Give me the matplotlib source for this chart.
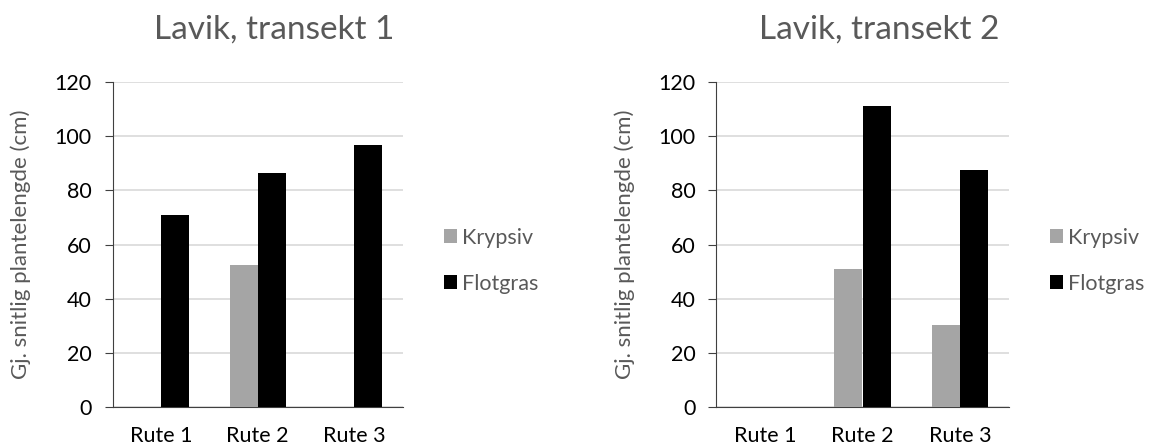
import numpy as np
import matplotlib.pyplot as plt

plt.rcParams['font.family'] = ['Lato', 'DejaVu Sans']

ruter = ['Rute 1', 'Rute 2', 'Rute 3']
serier = ['Krypsiv', 'Flotgras']
farger = ['#a5a5a5', '#000000']

# Gjennomsnittlig plantelengde (cm), 0 = ingen observasjon
transekt1_krypsiv = [0, 52.4, 0]
transekt1_flotgras = [71.0, 86.5, 96.6]
transekt2_krypsiv = [0, 51.0, 30.3]
transekt2_flotgras = [0, 111.1, 87.6]

titler = ['Lavik, transekt 1', 'Lavik, transekt 2']
data = [(transekt1_krypsiv, transekt1_flotgras),
        (transekt2_krypsiv, transekt2_flotgras)]

fig = plt.figure(figsize=(11.5, 4.47), dpi=100)
posisjoner = [[0.098, 0.0895, 0.252, 0.727], [0.623, 0.0895, 0.254, 0.727]]

x = np.arange(len(ruter))
w = 0.29
for pos, tittel, (kryp, flot) in zip(posisjoner, titler, data):
    ax = fig.add_axes(pos)
    ax.bar(x - w / 2, kryp, w, color=farger[0], label=serier[0], zorder=3)
    ax.bar(x + w / 2, flot, w, color=farger[1], label=serier[1], zorder=3)
    ax.set_xlim(-0.5, 2.5)
    ax.set_ylim(0, 120)
    ax.set_yticks(range(0, 121, 20))
    ax.set_xticks(x)
    ax.set_xticklabels(ruter)
    ax.yaxis.grid(True, color='#d9d9d9', linewidth=1.2, zorder=0)
    ax.spines['top'].set_visible(False)
    ax.spines['right'].set_visible(False)
    ax.spines['left'].set_color('#404040')
    ax.spines['bottom'].set_color('#404040')
    ax.tick_params(axis='y', labelsize=15.5, length=6, color='#404040', pad=9)
    ax.tick_params(axis='x', labelsize=15.5, length=0, pad=14)
    ax.set_ylabel('Gj. snitlig plantelengde (cm)', fontsize=16, color='#595959', labelpad=17)
    ax.set_title(tittel, fontsize=24, color='#595959', pad=31, x=0.556)
    ax.legend(loc='center left', bbox_to_anchor=(1.075, 0.45), frameon=False,
              fontsize=15.5, labelspacing=1.2, handlelength=0.6, handleheight=0.6,
              handletextpad=0.25, labelcolor='#595959')

fig.savefig('out.png', dpi=100)
